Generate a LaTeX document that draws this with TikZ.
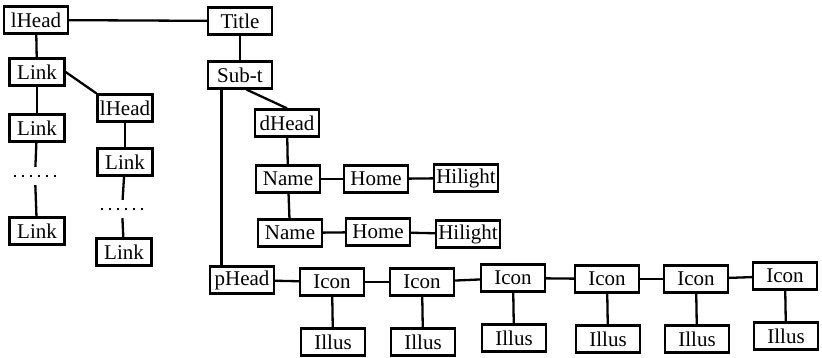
\documentclass[tikz,border=0pt]{standalone}
\usepackage{fontspec}
\setmainfont{Liberation Serif}
\usetikzlibrary{positioning, calc}

\begin{document}
\begin{tikzpicture}[x=1pt, y=-1pt, font=\fontsize{21}{24}\selectfont,
    box/.style={draw, line width=2.3pt, minimum width=64pt, minimum height=27pt, inner sep=1pt},
    thinbox/.style={box, minimum width=55pt},
    wire/.style={line width=2.3pt},
    gap/.style={minimum width=42pt, minimum height=18pt, inner sep=0pt},
    dots/.style={line width=2.5pt, dash pattern=on 2.5pt off 5.5pt}]
  \useasboundingbox (0,0) rectangle (822,358);

  % link index, left side
  \node[box] (lhead) at (36,20) {lHead};
  \node[thinbox] (linka) at (37,72) {Link};
  \node[thinbox] (linkb) at (37,128) {Link};
  \node[gap] (dotsa) at (35,176) {};
  \node[thinbox] (linkc) at (37,231) {Link};
  \node[thinbox] (lheadb) at (125,108) {lHead};
  \node[thinbox] (linkd) at (125,162) {Link};
  \node[gap] (dotsb) at (122,209) {};
  \node[thinbox] (linke) at (124,252) {Link};

  % title and document part
  \node[box] (title) at (240,21) {Title};
  \node[box] (subt) at (240,75) {Sub-t};
  \node[box] (dhead) at (287,123) {dHead};
  \node[box] (namea) at (288,179) {Name};
  \node[box] (homea) at (376,179) {Home};
  \node[box] (hilia) at (466,178) {Hilight};
  \node[box] (nameb) at (290,233) {Name};
  \node[box] (homeb) at (378,232) {Home};
  \node[box] (hilib) at (468,234) {Hilight};

  % picture row
  \node[box] (phead) at (242,280) {pHead};
  \foreach \i/\x/\y in {1/332/282, 2/422/282, 3/513/278, 4/607/279, 5/696/279, 6/785/276} {
    \node[box] (icon\i) at (\x,\y) {Icon};
    \node[box] (illus\i) at (\x+1,\y+60) {Illus};
    \draw[wire] (icon\i) -- (illus\i);
  }

  % connectors
  \draw[wire] (lhead) -- (title);
  \draw[wire] (lhead) -- (linka);
  \draw[wire] (linka) -- (linkb);
  \draw[wire] (linkb) -- (dotsa);
  \draw[wire] (dotsa) -- (linkc);
  \draw[dots] (dotsa.west) -- (dotsa.east);
  \draw[wire] (linka.east) -- (lheadb.north west);
  \draw[wire] (lheadb) -- (linkd);
  \draw[wire] (linkd) -- (dotsb);
  \draw[wire] (dotsb) -- (linke);
  \draw[dots] (dotsb.west) -- (dotsb.east);

  \draw[wire] (title) -- (subt);
  \draw[wire] ($(subt.south west)!0.6!(subt.south east)$) -- (dhead.north);
  \draw[wire] ($(subt.south west)!0.22!(subt.south east)$) coordinate (drop)
    -- (drop |- phead.north);
  \draw[wire] (dhead) -- (namea);
  \draw[wire] (namea) -- (nameb);
  \draw[wire] (namea) -- (homea);
  \draw[wire] (homea) -- (hilia);
  \draw[wire] (nameb) -- (homeb);
  \draw[wire] (homeb) -- (hilib);

  \draw[wire] (phead) -- (icon1);
  \foreach \i/\j in {1/2, 2/3, 3/4, 4/5, 5/6}
    \draw[wire] (icon\i) -- (icon\j);
\end{tikzpicture}
\end{document}
